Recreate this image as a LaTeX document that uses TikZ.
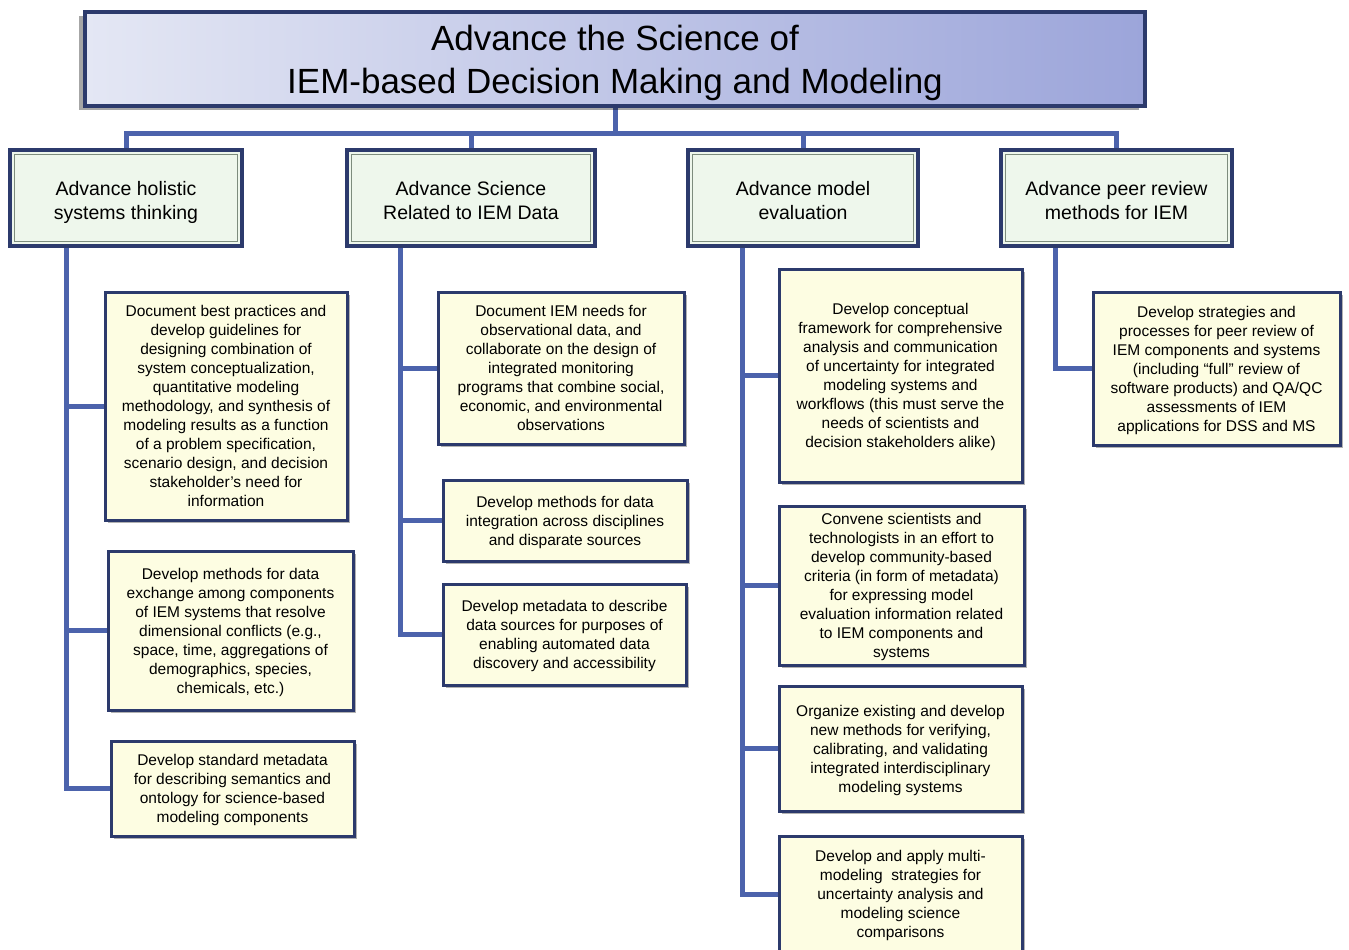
\documentclass[tikz,border=0pt]{standalone}
\usepackage{fontspec}
\setmainfont{Liberation Sans}
\usetikzlibrary{shadows,backgrounds}
\definecolor{navy}{HTML}{2C3A6C}
\definecolor{connc}{HTML}{4C63AC}
\definecolor{leaffill}{HTML}{FDFDE2}
\definecolor{catfill}{HTML}{EEF7EC}
\definecolor{tleft}{HTML}{E4E7F4}
\definecolor{tright}{HTML}{9CA5DA}
\definecolor{innerc}{HTML}{7D8C7D}
\newcommand\shiftlines[2]{\raisebox{-#1}[\height][\depth]{\begin{tabular}{@{}c@{}}#2\end{tabular}}}
\newcommand\leaftext[1]{\shiftlines{2pt}{#1}}
\newcommand\cattext[1]{\shiftlines{5pt}{#1}}
\newcommand\titletext[1]{\shiftlines{4pt}{#1}}
\renewcommand\arraystretch{1}
\begin{document}
\begin{tikzpicture}[x=1pt,y=-1pt,
  leafbox/.style={draw=navy, line width=3pt, fill=leaffill, inner sep=0pt,
    font=\fontsize{15.5}{19}\selectfont,
    drop shadow={shadow xshift=3pt, shadow yshift=-3pt, fill=black, opacity=0.3}},
  catbox/.style={draw=navy, line width=3.5pt, fill=catfill, inner sep=0pt,
    font=\fontsize{19.5}{24}\selectfont,
    drop shadow={shadow xshift=2pt, shadow yshift=-2pt, fill=black, opacity=0.25}},
  titlebox/.style={draw=navy, line width=4pt, left color=tleft, right color=tright, inner sep=0pt,
    font=\fontsize{35}{43}\selectfont,
    drop shadow={shadow xshift=-6pt, shadow yshift=-4pt, fill=black, opacity=0.35}},
  innerframe/.style={draw=innerc, line width=1.2pt},
  conn/.style={draw=connc, line width=5pt, line join=miter}
]
\useasboundingbox (0,0) rectangle (1349,950);

\node[titlebox, minimum width=1060, minimum height=94] (title) at (615,59)
  {\titletext{Advance the Science of\\IEM-based Decision Making and Modeling}};

\node[catbox, minimum width=232, minimum height=96] (c1) at (126,198) {\cattext{Advance holistic\\systems thinking}};
\node[catbox, minimum width=248, minimum height=96] (c2) at (471,198) {\cattext{Advance Science\\Related to IEM Data}};
\node[catbox, minimum width=230, minimum height=96] (c3) at (803,198) {\cattext{Advance model\\evaluation}};
\node[catbox, minimum width=231, minimum height=96] (c4) at (1116.5,198) {\cattext{Advance peer review\\methods for IEM}};
\foreach \c in {c1,c2,c3,c4}{
  \draw[innerframe] ([shift={(6pt,-6pt)}]\c.north west) rectangle ([shift={(-6pt,6pt)}]\c.south east);
}

\node[leafbox, minimum width=242, minimum height=228] (l1a) at (226,406)
  {\leaftext{Document best practices and\\develop guidelines for\\designing combination of\\system conceptualization,\\quantitative modeling\\methodology, and synthesis of\\modeling results as a function\\of a problem specification,\\scenario design, and decision\\stakeholder's need for\\information}};
\node[leafbox, minimum width=245, minimum height=159] (l1b) at (230.5,630.5)
  {\leaftext{Develop methods for data\\exchange among components\\of IEM systems that resolve\\dimensional conflicts (e.g.,\\space, time, aggregations of\\demographics, species,\\chemicals, etc.)}};
\node[leafbox, minimum width=243, minimum height=95] (l1c) at (232.5,788.5)
  {\leaftext{Develop standard metadata\\for describing semantics and\\ontology for science-based\\modeling components}};

\node[leafbox, minimum width=246, minimum height=152] (l2a) at (561,368)
  {\leaftext{Document IEM needs for\\observational data, and\\collaborate on the design of\\integrated monitoring\\programs that combine social,\\economic, and environmental\\observations}};
\node[leafbox, minimum width=244, minimum height=81] (l2b) at (565,520.5)
  {\leaftext{Develop methods for data\\integration across disciplines\\and disparate sources}};
\node[leafbox, minimum width=243, minimum height=101] (l2c) at (564.5,634.5)
  {\leaftext{Develop metadata to describe\\data sources for purposes of\\enabling automated data\\discovery and accessibility}};

\node[leafbox, minimum width=243, minimum height=213] (l3a) at (900.5,375.5)
  {\leaftext{Develop conceptual\\framework for comprehensive\\analysis and communication\\of uncertainty for integrated\\modeling systems and\\workflows (this must serve the\\needs of scientists and\\decision stakeholders alike)}};
\node[leafbox, minimum width=245, minimum height=159] (l3b) at (901.5,585.5)
  {\leaftext{Convene scientists and\\technologists in an effort to\\develop community-based\\criteria (in form of metadata)\\for expressing model\\evaluation information related\\to IEM components and\\systems}};
\node[leafbox, minimum width=243, minimum height=125] (l3c) at (900.5,748.5)
  {\leaftext{Organize existing and develop\\new methods for verifying,\\calibrating, and validating\\integrated interdisciplinary\\modeling systems}};
\node[leafbox, minimum width=243, minimum height=116] (l3d) at (900.5,894)
  {\leaftext{Develop and apply multi-\\modeling\ \ strategies for\\uncertainty analysis and\\modeling science\\comparisons}};

\node[leafbox, minimum width=247, minimum height=153] (l4a) at (1216.5,368.5)
  {\leaftext{Develop strategies and\\processes for peer review of\\IEM components and systems\\(including “full” review of\\software products) and QA/QC\\assessments of IEM\\applications for DSS and MS}};

\begin{scope}[on background layer]
  \draw[conn] (title.south) -- ++(0,25) coordinate (bus);
  \draw[conn] (c1.north) |- (bus) -| (c4.north);
  \draw[conn] (c2.north) -- (c2.north |- bus);
  \draw[conn] (c3.north) -- (c3.north |- bus);
  \foreach \l in {l1a,l1b,l1c}{ \draw[conn] (c1.south west) ++(58,0) |- (\l.west); }
  \foreach \l in {l2a,l2b,l2c}{ \draw[conn] (c2.south west) ++(55,0) |- (\l.west); }
  \foreach \l in {l3a,l3b,l3c,l3d}{ \draw[conn] (c3.south west) ++(56,0) |- (\l.west); }
  \draw[conn] (c4.south west) ++(56,0) |- (l4a.west);
\end{scope}
\end{tikzpicture}
\end{document}
